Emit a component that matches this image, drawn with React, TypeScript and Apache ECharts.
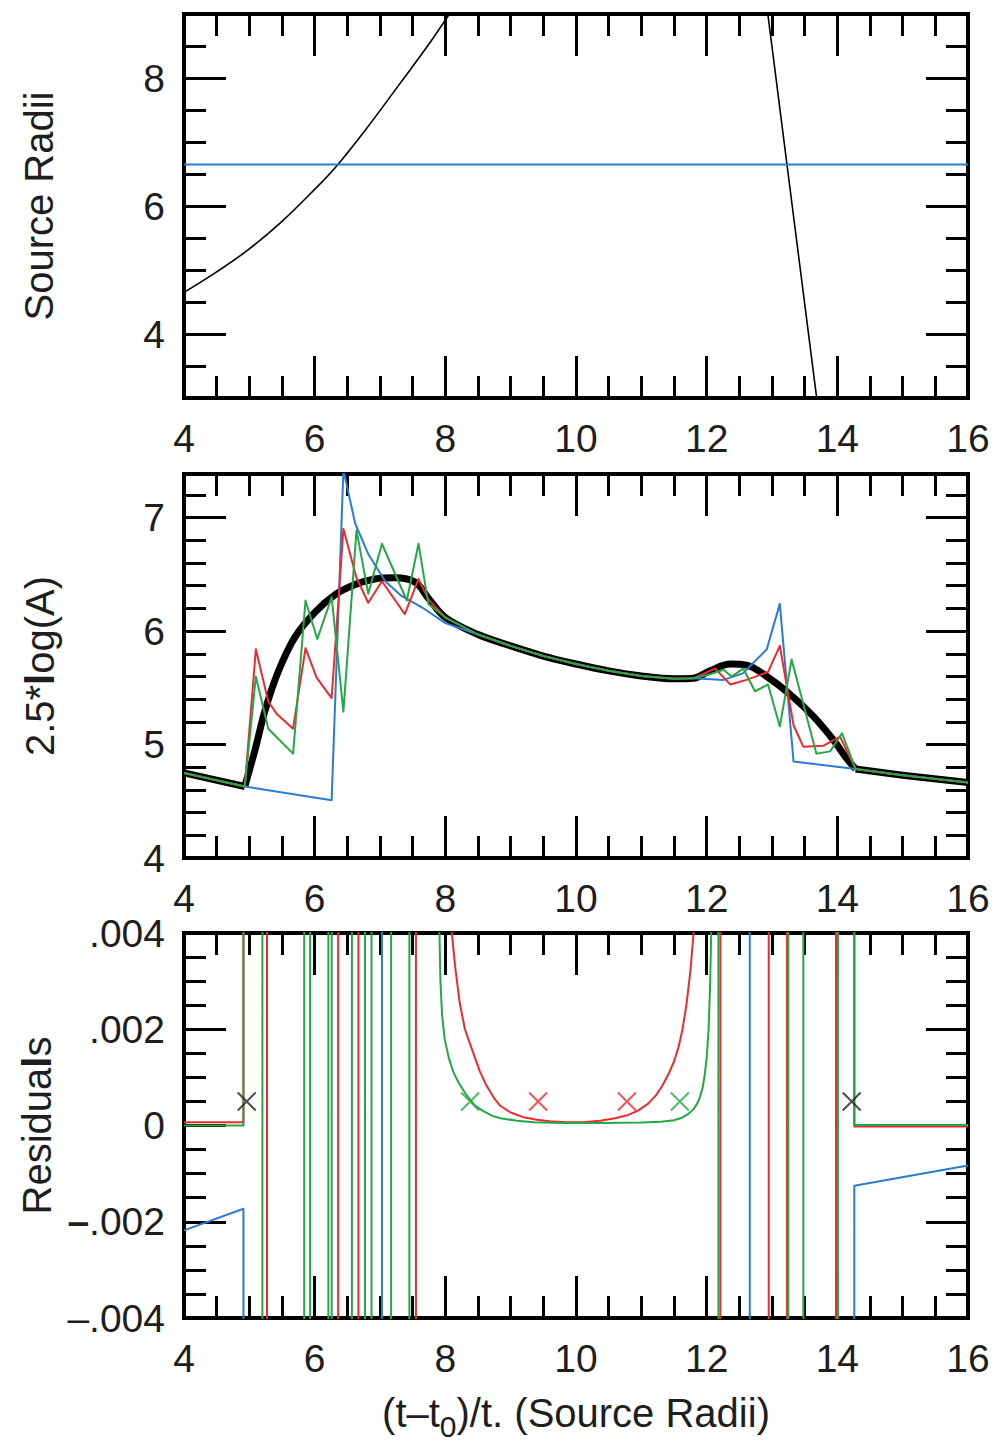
import React, { useEffect, useRef } from "react";
import * as echarts from "echarts";

const FONT = "'Liberation Sans', Helvetica, Arial, sans-serif";
const TEXT = "#1e1e1e";
const BLUE = "#2b7bd3";
const RED = "#ec2a2e";
const GREEN = "#24a745";
const BLACK = "#000000";

// ---------- shared x axis ----------
const xMin = 4;
const xMax = 16;
const xStep = 2;

// ---------- Panel 1 : Source Radii ----------
const p1Min = 3;
const p1Max = 9;
const p1Labels = [4, 6, 8];
const trackRise = [
  [4, 4.65], [4.5, 4.97], [5, 5.33], [5.5, 5.76], [6.0, 6.26],
  [6.34, 6.63], [6.8, 7.22], [7.31, 7.92], [7.7, 8.46], [8.05, 8.98], [8.1, 9.06],
];
const trackFall = [[12.93, 9.05], [13.31, 6.0], [13.69, 2.95]];
const sourceRadius = [[4, 6.65], [16, 6.65]];

// ---------- Panel 2 : 2.5*log(A) ----------
const p2Min = 4;
const p2Max = 7.385;
const magBaseLeft = [[4, 4.75], [4.93, 4.63]];
const magBaseRight = [[14.28, 4.785], [15, 4.73], [16, 4.665]];
const magMid = [
  [8.5, 5.97], [9.0, 5.87], [9.5, 5.78], [10.0, 5.71], [10.5, 5.65],
  [11.0, 5.605], [11.5, 5.58], [11.8, 5.585],
];
const modelRise = [
  [4.93, 4.63], [5.09, 4.96], [5.24, 5.3], [5.44, 5.64], [5.7, 5.95], [6.01, 6.17], [6.31, 6.32],
  [6.62, 6.41], [6.92, 6.46], [7.23, 6.47], [7.54, 6.43], [7.74, 6.29], [8.0, 6.12],
];
const modelFall = [
  [12.05, 5.65], [12.36, 5.71], [12.61, 5.7], [12.92, 5.6], [13.28, 5.44],
  [13.63, 5.25], [13.94, 5.04], [14.14, 4.88], [14.28, 4.785],
];
const blueRise = [
  [6.26, 4.51], [6.44, 7.42], [6.62, 6.95], [6.82, 6.68], [7.08, 6.44],
  [7.33, 6.31], [7.64, 6.21], [8.0, 6.07],
];
const blueFall = [[12.26, 5.57], [12.56, 5.63], [12.92, 5.84], [13.12, 6.24], [13.33, 4.85]];
const redRise = [
  [5.1, 5.84], [5.29, 5.38], [5.42, 5.27], [5.67, 5.14], [5.86, 5.85], [6.03, 5.59],
  [6.26, 5.41], [6.44, 6.9], [6.64, 6.47], [6.82, 6.25], [7.03, 6.44], [7.38, 6.15],
  [7.59, 6.46], [7.74, 6.28], [8.0, 6.12],
];
const redFall = [
  [12.13, 5.67], [12.36, 5.53], [12.61, 5.57], [12.94, 5.64], [13.12, 5.87],
  [13.33, 5.17], [13.48, 4.98], [13.79, 4.99], [14.04, 5.07],
];
const greenRise = [
  [5.1, 5.6], [5.29, 5.14], [5.67, 4.92], [5.86, 6.27], [6.04, 5.93], [6.26, 6.3],
  [6.44, 5.29], [6.64, 6.89], [6.82, 6.33], [7.03, 6.77], [7.41, 6.27], [7.59, 6.77],
  [7.74, 6.24], [8.0, 6.12],
];
const greenFall = [
  [12.05, 5.62], [12.26, 5.66], [12.38, 5.6], [12.56, 5.67], [12.74, 5.47],
  [12.94, 5.53], [13.12, 5.16], [13.3, 5.75], [13.68, 4.92], [13.89, 4.94], [14.07, 5.1],
];

// ---------- Panel 3 : Residuals ----------
const p3Min = -0.004;
const p3Max = 0.004;
const residBlueLeft = [[4, -0.00218], [4.91, -0.00173]];
const residBlueFlips = [7.03, 12.66];
const residBlueRight = [[14.26, -0.00125], [16, -0.00083]];

const residRedLeft = [[4, 0.00007], [4.91, 0.00007]];
const residRedFlips1 = [5.27, 6.36, 6.67, 7.55];
const residRedCurve = [
  [8.1, 0.004], [8.15, 0.0033], [8.22, 0.00255], [8.3, 0.002], [8.43, 0.0015], [8.53, 0.00112],
  [8.63, 0.00083], [8.74, 0.00058], [8.84, 0.00041], [9.0, 0.00027], [9.2, 0.00017],
  [9.4, 0.00012], [9.6, 0.00009], [9.86, 0.00007], [10.1, 0.00007], [10.37, 0.0001],
  [10.6, 0.00015], [10.8, 0.00022], [10.95, 0.00031], [11.1, 0.00045], [11.22, 0.00062],
  [11.32, 0.00082], [11.42, 0.00108], [11.5, 0.00133], [11.57, 0.00163], [11.63, 0.002],
  [11.69, 0.0025], [11.75, 0.0032], [11.8, 0.004],
];
const residRedFlips2 = [12.21, 12.95, 13.23, 13.98];
const residRedRight = [[14.26, -0.00002], [16, -0.00002]];

const residGreenLeft = [[4, 0.0], [4.91, 0.0]];
const residGreenFlips1 = [5.2, 5.84, 5.93, 6.21, 6.26, 6.57, 6.77, 6.87, 7.17, 7.45];
const residGreenCurve = [
  [7.91, 0.004], [7.925, 0.003], [7.95, 0.0023], [7.99, 0.0018], [8.05, 0.00142],
  [8.12, 0.00112], [8.2, 0.0009], [8.33, 0.00062], [8.45, 0.00042], [8.58, 0.0003],
  [8.72, 0.0002], [8.84, 0.00015], [9.1, 0.0001], [9.35, 0.00007], [9.8, 0.00005],
  [10.37, 0.00005], [11.0, 0.00006], [11.3, 0.00008], [11.5, 0.00011], [11.62, 0.00016],
  [11.72, 0.00024], [11.8, 0.00034], [11.86, 0.00047], [11.9, 0.0006], [11.94, 0.0008],
  [11.97, 0.00105], [12.0, 0.0014], [12.03, 0.002], [12.05, 0.0028], [12.07, 0.004],
];
const residGreenFlips2 = [12.18, 13.25, 13.48, 14.01];
const residGreenRight = [[14.26, 0.00001], [16, 0.00001]];

const crossBlack = [[4.96, 0.0005], [14.22, 0.0005]];
const crossGreen = [[8.38, 0.0005], [11.59, 0.0005]];
const crossRed = [[9.42, 0.0005], [10.78, 0.0005]];

const OFF = 1; // far outside the residual window, clipped by the grid

function flips(xs: number[], sign: number): number[][] {
  const out: number[][] = [];
  let s = sign;
  for (const x of xs) {
    out.push([x, s * OFF]);
    s = -s;
    out.push([x, s * OFF]);
  }
  return out;
}
const first = (a: number[][]) => a[0][0];
const last = (a: number[][]) => a[a.length - 1][0];

function buildBlueResid() {
  return [
    ...residBlueLeft,
    [last(residBlueLeft), -OFF],
    ...flips(residBlueFlips, -1),
    [first(residBlueRight), -OFF],
    ...residBlueRight,
  ];
}
function buildResid(left: number[][], f1: number[], curve: number[][], f2: number[], right: number[][]) {
  return [
    ...left,
    [last(left), OFF],
    ...flips(f1, 1),
    [first(curve), OFF],
    ...curve,
    [last(curve), OFF],
    ...flips(f2, 1),
    [first(right), OFF],
    ...right,
  ];
}

const LABEL_SIZE = 39;
const NAME_SIZE = 40;
const lineStyleAxis = { color: BLACK, width: 4, cap: "square" };
const tickStyle = { color: BLACK, width: 3 };
const labelBase = { color: TEXT, fontSize: LABEL_SIZE, fontFamily: FONT };
const nameBase = { color: TEXT, fontSize: NAME_SIZE, fontFamily: FONT };
const boldRich = { b: { color: TEXT, fontSize: NAME_SIZE, fontFamily: FONT, fontWeight: "bold" } };

function xPair(g: number, extra: any = {}) {
  const base = {
    gridIndex: g,
    type: "value",
    min: xMin,
    max: xMax,
    interval: xStep,
    axisLine: { show: true, onZero: false, lineStyle: lineStyleAxis },
    axisTick: { show: true, inside: true, length: 42, lineStyle: tickStyle },
    minorTick: { show: true, splitNumber: 4, length: 22, lineStyle: tickStyle },
    splitLine: { show: false },
    minorSplitLine: { show: false },
  };
  return [
    { ...base, position: "bottom", axisLabel: { ...labelBase, margin: 21 }, ...extra },
    { ...base, position: "top", axisLabel: { show: false } },
  ];
}

const App: React.FC = () => {
  const ref = useRef<HTMLDivElement>(null);

  useEffect(() => {
    if (!ref.current) return;
    const chart = echarts.init(ref.current, null, { renderer: "svg" });

    const grids = [
      { left: 184, top: 14, width: 784, height: 384, containLabel: false, outerBoundsMode: "none" },
      { left: 184, top: 474, width: 784, height: 384, containLabel: false, outerBoundsMode: "none" },
      { left: 184, top: 933, width: 784, height: 385, containLabel: false, outerBoundsMode: "none" },
    ];

    const xAxis = [
      ...xPair(0),
      ...xPair(1),
      ...xPair(2, {
        name: "(t–t{sub|0})/t. (Source Radii)",
        nameLocation: "middle",
        nameGap: 95,
        nameTextStyle: {
          ...nameBase,
          verticalAlign: "middle",
          rich: {
            sub: { color: TEXT, fontSize: 30, fontFamily: FONT, padding: [27, 0, 0, 0], verticalAlign: "middle" },
          },
        },
      }),
    ];

    const p1Common = {
      gridIndex: 0,
      type: "value",
      min: p1Min,
      max: p1Max,
      splitLine: { show: false },
      axisLine: { show: true, onZero: false, lineStyle: lineStyleAxis },
    };
    const p1Minor = {
      ...p1Common,
      interval: 0.5,
      axisTick: { show: true, inside: true, length: 22, lineStyle: tickStyle },
    };
    const p1Major = {
      ...p1Common,
      interval: 1,
      axisTick: { show: true, inside: true, length: 42, lineStyle: tickStyle, customValues: p1Labels },
      axisLabel: { show: false },
    };

    const yAxis: any[] = [
      // panel 1
      {
        ...p1Minor,
        position: "left",
        axisLabel: {
          ...labelBase,
          margin: 19,
          formatter: (v: number) => (p1Labels.includes(v) ? String(v) : ""),
        },
        name: "Source Radii",
        nameLocation: "middle",
        nameGap: 125,
        nameRotate: 90,
        nameTextStyle: nameBase,
      },
      { ...p1Major, position: "left" },
      { ...p1Minor, position: "right", axisLabel: { show: false } },
      { ...p1Major, position: "right" },
      // panel 2
      ...["left", "right"].map((pos) => ({
        gridIndex: 1,
        type: "value",
        position: pos,
        min: p2Min,
        max: p2Max,
        interval: 1,
        splitLine: { show: false },
        axisLine: { show: true, onZero: false, lineStyle: lineStyleAxis },
        axisTick: { show: true, inside: true, length: 42, lineStyle: tickStyle },
        minorTick: { show: true, splitNumber: 5, length: 22, lineStyle: tickStyle },
        minorSplitLine: { show: false },
        axisLabel:
          pos === "left"
            ? {
                ...labelBase,
                margin: 19,
                formatter: (v: number) => (Math.abs(v - Math.round(v)) < 1e-6 ? String(Math.round(v)) : ""),
              }
            : { show: false },
        ...(pos === "left"
          ? {
              name: "2.5*{b|l}og(A)",
              nameLocation: "middle",
              nameGap: 124,
              nameRotate: 90,
              nameTextStyle: { ...nameBase, rich: boldRich },
            }
          : {}),
      })),
      // panel 3
      ...["left", "right"].map((pos) => ({
        gridIndex: 2,
        type: "value",
        position: pos,
        min: p3Min,
        max: p3Max,
        interval: 0.002,
        splitLine: { show: false },
        axisLine: { show: true, onZero: false, lineStyle: lineStyleAxis },
        axisTick: { show: true, inside: true, length: 42, lineStyle: tickStyle },
        minorTick: { show: true, splitNumber: 4, length: 22, lineStyle: tickStyle },
        minorSplitLine: { show: false },
        axisLabel:
          pos === "left"
            ? {
                ...labelBase,
                margin: 19,
                rich: { d: { ...labelBase, fontWeight: "bold" } },
                formatter: (v: number) => {
                  if (Math.abs(v) < 1e-9) return "0";
                  const s = Math.abs(v).toFixed(3).slice(1);
                  if (v < 0) return Math.abs(v + 0.002) < 1e-9 ? "{d|–}" + s : "–" + s;
                  return s;
                },
              }
            : { show: false },
        ...(pos === "left"
          ? {
              name: "Residua{b|l}s",
              nameLocation: "middle",
              nameGap: 125,
              nameRotate: 90,
              nameTextStyle: { ...nameBase, rich: boldRich },
            }
          : {}),
      })),
    ];

    const ln = (data: number[][], color: string, width: number, xi: number, yi: number, smooth: any = false) => ({
      type: "line",
      data,
      xAxisIndex: xi,
      yAxisIndex: yi,
      showSymbol: false,
      symbol: "none",
      clip: true,
      smooth,
      lineStyle: { color, width, join: "round" },
      itemStyle: { color },
      emphasis: { disabled: true },
      z: 2,
    });

    const cross = (data: number[][], color: string) => ({
      type: "scatter",
      data,
      xAxisIndex: 4,
      yAxisIndex: 6,
      symbol: "path://M0,0L10,10M10,0L0,10",
      symbolSize: 18,
      itemStyle: { color: "none", borderColor: color, borderWidth: 2 },
      z: 5,
    });

    const series = [
      // panel 1
      ln(trackRise, BLACK, 1.6, 0, 0, 0.4),
      ln(trackFall, BLACK, 1.6, 0, 0),
      ln(sourceRadius, BLUE, 2, 0, 0),
      // panel 2 (model: thick black)
      ln(magBaseLeft, BLACK, 7, 2, 4),
      ln([...modelRise, ...magMid, ...modelFall], BLACK, 7, 2, 4, 0.35),
      ln(magBaseRight, BLACK, 7, 2, 4),
      ln([...magBaseLeft, ...blueRise, ...magMid, ...blueFall, ...magBaseRight], BLUE, 2, 2, 4),
      ln([...magBaseLeft, ...redRise, ...magMid, ...redFall, ...magBaseRight], RED, 2, 2, 4),
      ln([...magBaseLeft, ...greenRise, ...magMid, ...greenFall, ...magBaseRight], GREEN, 2, 2, 4),
      // panel 3
      ln(buildBlueResid(), BLUE, 2, 4, 6),
      ln(buildResid(residRedLeft, residRedFlips1, residRedCurve, residRedFlips2, residRedRight), RED, 2, 4, 6),
      ln(buildResid(residGreenLeft, residGreenFlips1, residGreenCurve, residGreenFlips2, residGreenRight), GREEN, 2, 4, 6),
      cross(crossBlack, "#222222"),
      cross(crossGreen, GREEN),
      cross(crossRed, RED),
    ];

    chart.setOption({
      animation: false,
      backgroundColor: "#ffffff",
      grid: grids,
      xAxis,
      yAxis,
      series,
    } as any);

    return () => chart.dispose();
  }, []);

  return (
    <div
      ref={ref}
      style={{ position: "absolute", left: 0, top: 0, width: 996, height: 1443, background: "#fff" }}
    />
  );
};

export default App;
